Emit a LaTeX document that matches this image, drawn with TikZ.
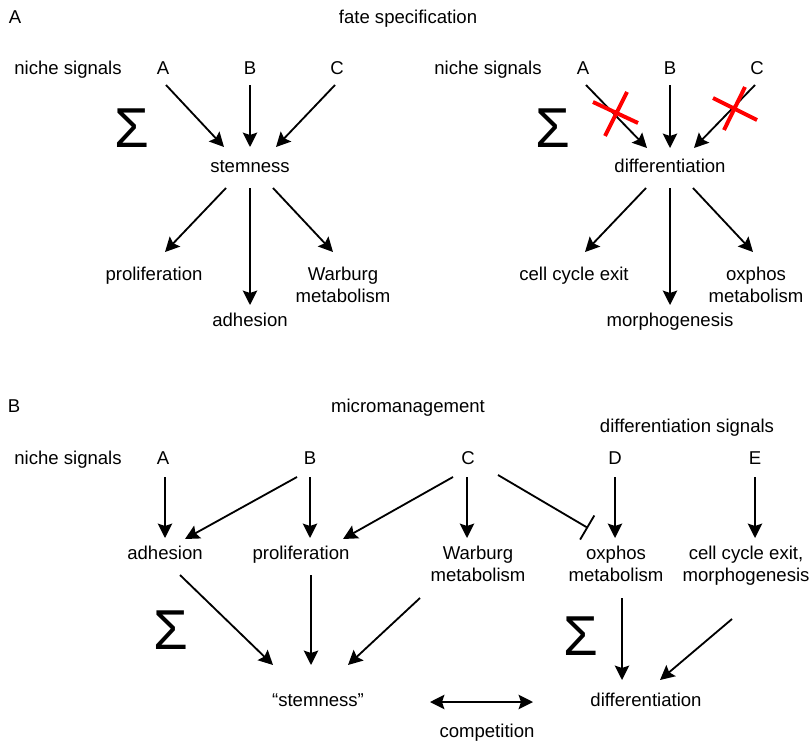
\documentclass[tikz,border=0pt]{standalone}
\usepackage{fontspec}
\setmainfont{Liberation Sans}
\usetikzlibrary{arrows.meta,calc}

\begin{document}
\begin{tikzpicture}[x=0.025cm, y=-0.025cm,
    font=\fontsize{13.2}{15.6}\selectfont,
    >={Stealth[length=3.6mm, width=3.6mm, inset=0.6mm]},
    every node/.style={inner sep=0pt, text height=7pt, text depth=0pt},
    two/.style={align=center, text height={}, text depth={}},
    sig/.style={font=\fontsize{40}{40}\selectfont, text height={}, text depth={}},
    arr/.style={line width=1.3pt, ->},
    inh/.style={line width=1.3pt, -{Bar[width=7mm]}},
    cross/.style={red, line width=2.8pt}]
    \useasboundingbox (0,0) rectangle (809,743);
    % panel A, left
    \node (lblA) at (15,19) {A};
    \node (ttlA) at (408,19) {fate specification};
    \node (nicheA) at (68,70) {niche signals};
    \node (sA) at (163,70) {A};
    \node (sB) at (250,70) {B};
    \node (sC) at (337,70) {C};
    \node[sig] (sum1) at (132,128) {Σ};
    \node (stem) at (250,168) {stemness};
    \node (prolA) at (154,276) {proliferation};
    \node (adhA) at (250,322) {adhesion};
    \node[two] (warbA) at (343,285) {Warburg\\metabolism};
    \draw[arr] ($(sA)+(3,15)$) -- ($(stem)+(-26,-21)$);
    \draw[arr] ($(sB)+(0,15)$) -- ($(stem)+(0,-21)$);
    \draw[arr] ($(sC)+(-2,15)$) -- ($(stem)+(26,-21)$);
    \draw[arr] ($(stem)+(-24,20)$) -- ($(prolA)+(11,-24)$);
    \draw[arr] ($(stem)+(0,20)$) -- ($(adhA)+(0,-17)$);
    \draw[arr] ($(stem)+(23,20)$) -- ($(warbA)+(-10,-33)$);
    % panel A, right
    \node (nicheA2) at (488,70) {niche signals};
    \node (dA) at (583,70) {A};
    \node (dB) at (670,70) {B};
    \node (dC) at (757,70) {C};
    \node[sig] (sum2) at (553,128) {Σ};
    \node (diffA) at (670,168) {differentiation};
    \node (cceA) at (574,276) {cell cycle exit};
    \node (morphA) at (670,322) {morphogenesis};
    \node[two] (oxA) at (756,285) {oxphos\\metabolism};
    \draw[arr] ($(dA)+(3,15)$) -- ($(diffA)+(-23,-20)$);
    \draw[arr] ($(dB)+(0,15)$) -- ($(diffA)+(0,-20)$);
    \draw[arr] ($(dC)+(-2,15)$) -- ($(diffA)+(24,-20)$);
    \draw[arr] ($(diffA)+(-24,20)$) -- ($(cceA)+(11,-24)$);
    \draw[arr] ($(diffA)+(0,20)$) -- ($(morphA)+(0,-17)$);
    \draw[arr] ($(diffA)+(23,20)$) -- ($(oxA)+(-3,-33)$);
    \draw[cross] (593,102) -- (638,123) (605,136) -- (627,92);
    \draw[cross] (713,98) -- (757,120) (724,130) -- (745,87);
    % panel B
    \node (lblB) at (14,408) {B};
    \node (ttlB) at (408,408) {micromanagement};
    \node (dsig) at (687,428) {differentiation signals};
    \node (nicheB) at (68,460) {niche signals};
    \node (nA) at (163,460) {A};
    \node (nB) at (310,460) {B};
    \node (nC) at (468,460) {C};
    \node (nD) at (615,460) {D};
    \node (nE) at (755,460) {E};
    \node (adhB) at (165,555) {adhesion};
    \node (prolB) at (301,555) {proliferation};
    \node[two] (warbB) at (478,564) {Warburg\\metabolism};
    \node[two] (oxB) at (616,564) {oxphos\\metabolism};
    \node[two] (cceB) at (746,566) {cell cycle exit,\\morphogenesis};
    \node[sig] (sum3) at (171,630) {Σ};
    \node[sig] (sum4) at (581,636) {Σ};
    \node (stemB) at (318,702) {“stemness”};
    \node (diffB) at (646,702) {differentiation};
    \node (comp) at (487,733) {competition};
    \draw[arr] ($(nA)+(2,17)$) -- ($(adhB)+(0,-17)$);
    \draw[arr] ($(nB)+(-13,17)$) -- ($(adhB)+(20,-16)$);
    \draw[arr] ($(nB)+(0,17)$) -- ($(prolB)+(9,-17)$);
    \draw[arr] ($(nC)+(-15,17)$) -- ($(prolB)+(42,-16)$);
    \draw[arr] ($(nC)+(-1,17)$) -- ($(warbB)+(-11,-26)$);
    \draw[inh] ($(nC)+(30,15)$) -- ($(oxB)+(-28,-36)$);
    \draw[arr] ($(nD)+(0,17)$) -- ($(oxB)+(-1,-26)$);
    \draw[arr] ($(nE)+(0,17)$) -- ($(cceB)+(9,-28)$);
    \draw[arr] ($(adhB)+(15,20)$) -- ($(stemB)+(-45,-37)$);
    \draw[arr] ($(prolB)+(10,20)$) -- ($(stemB)+(-7,-37)$);
    \draw[arr] ($(warbB)+(-58,34)$) -- ($(stemB)+(30,-37)$);
    \draw[arr] ($(oxB)+(6,34)$) -- ($(diffB)+(-24,-22)$);
    \draw[arr] ($(cceB)+(-14,53)$) -- ($(diffB)+(14,-22)$);
    \draw[arr, <->] ($(stemB)+(112,0)$) -- ($(diffB)+(-113,0)$);
  \end{tikzpicture}
\end{document}
